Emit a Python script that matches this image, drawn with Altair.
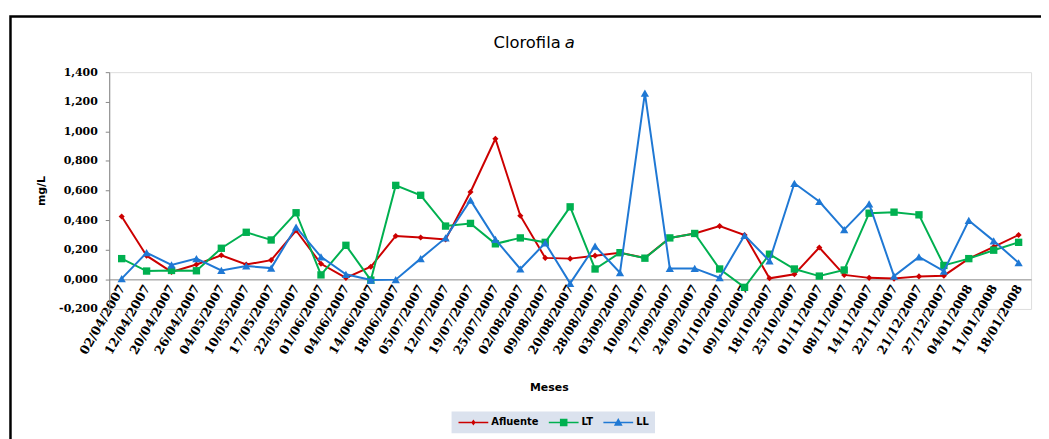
import altair as alt
import pandas as pd

fechas = ["02/04/2007", "12/04/2007", "20/04/2007", "26/04/2007", "04/05/2007", "10/05/2007",
          "17/05/2007", "22/05/2007", "01/06/2007", "04/06/2007", "14/06/2007", "18/06/2007",
          "05/07/2007", "12/07/2007", "19/07/2007", "25/07/2007", "02/08/2007", "09/08/2007",
          "20/08/2007", "28/08/2007", "03/09/2007", "10/09/2007", "17/09/2007", "24/09/2007",
          "01/10/2007", "09/10/2007", "18/10/2007", "25/10/2007", "01/11/2007", "08/11/2007",
          "14/11/2007", "22/11/2007", "21/12/2007", "27/12/2007", "04/01/2008", "11/01/2008",
          "18/01/2008"]

afluente = [0.425, 0.16, 0.05, 0.10, 0.163, 0.10, 0.13, 0.33, 0.105, 0.01, 0.085, 0.293,
            0.283, 0.27, 0.59, 0.95, 0.43, 0.145, 0.14, 0.16, 0.18, 0.145, 0.28, 0.31,
            0.36, 0.30, 0.007, 0.034, 0.215, 0.03, 0.01, 0.005, 0.02, 0.025, 0.14, 0.22, 0.30]

lt = [0.14, 0.056, 0.06, 0.058, 0.21, 0.318, 0.266, 0.45, 0.03, 0.23, -0.005, 0.635,
      0.568, 0.36, 0.378, 0.24, 0.28, 0.25, 0.49, 0.07, 0.18, 0.143, 0.28, 0.31,
      0.07, -0.054, 0.17, 0.07, 0.022, 0.063, 0.447, 0.454, 0.436, 0.094, 0.14, 0.197, 0.25]

ll = [0.005, 0.18, 0.098, 0.14, 0.06, 0.09, 0.076, 0.353, 0.152, 0.034, -0.005, -0.002,
      0.14, 0.28, 0.535, 0.27, 0.07, 0.246, -0.027, 0.225, 0.045, 1.259, 0.074, 0.074,
      0.011, 0.297, 0.125, 0.649, 0.526, 0.336, 0.51, 0.022, 0.152, 0.056, 0.398, 0.26, 0.112]

series_names = ["Afluente", "LT", "LL"]
series_colors = ["#cc0000", "#00b050", "#1f78d4"]
marker_shapes = ["diamond", "square", "triangle-up"]
marker_sizes = [38, 55, 70]
y_ticks = [-0.2, 0.0, 0.2, 0.4, 0.6, 0.8, 1.0, 1.2, 1.4]

# legend symbols: short line + marker (unit = 4px, symbol size 64)
legend_paths = [
    "M-3.75,-0.18H3.75V0.18H-3.75Z M0,-0.75L0.55,0L0,0.75L-0.55,0Z",
    "M-3.75,-0.18H3.75V0.18H-3.75Z M-0.95,-0.95H0.95V0.95H-0.95Z",
    "M-3.75,-0.18H3.75V0.18H-3.75Z M0,-1.1L1.1,0.85H-1.1Z",
]

rows = []
for name, vals in zip(series_names, [afluente, lt, ll]):
    for f, v in zip(fechas, vals):
        rows.append({"Fecha": f, "Serie": name, "Valor": v})
df = pd.DataFrame(rows)

W = 929
H = 238.6
GRAY = "#868686"

x_enc = alt.X(
    "Fecha:O", sort=fechas, scale=alt.Scale(padding=0.5),
    axis=alt.Axis(
        title="Meses", offset=-29.8, domainColor=GRAY, domainWidth=1, ticks=False,
        labelAngle=-60, labelFont="DejaVu Serif", labelFontWeight="bold", labelFontSize=12.5,
        labelColor="black", labelPadding=6, labelOverlap=False,
        titleFont="DejaVu Sans", titleFontWeight="bold", titleFontSize=11, titleColor="black",
        titleX=443, titleY=109, titleAnchor="start", titleAlign="center", titleBaseline="middle",
        grid=False,
    ),
)
y_enc = alt.Y(
    "Valor:Q", scale=alt.Scale(domain=[-0.2, 1.4], nice=False, zero=False),
    axis=alt.Axis(
        title="mg/L", values=y_ticks, grid=False, domainColor=GRAY, tickColor=GRAY,
        tickSize=4, labelPadding=8,
        labelExpr="(datum.value < -0.0001 ? '-' : '') + replace(format(abs(datum.value), '.3f'), '.', ',')",
        labelFont="DejaVu Serif", labelFontWeight="bold", labelFontSize=11, labelColor="black",
        titleFont="DejaVu Sans", titleFontWeight="bold", titleFontSize=11, titleColor="black",
        titleAngle=-90, titleX=-68, titleY=H / 2, titleAlign="center", titleBaseline="middle",
    ),
)

layers = []
for name, col, shp, sz in zip(series_names, series_colors, marker_shapes, marker_sizes):
    base = alt.Chart(df).transform_filter(alt.datum.Serie == name)
    line = base.mark_line(strokeWidth=2).encode(x=x_enc, y=y_enc, color=alt.value(col))
    pts = base.mark_point(shape=shp, filled=True, size=sz, opacity=1).encode(
        x=x_enc, y=y_enc, color=alt.value(col))
    layers += [line, pts]

leg_props = dict(
    orient="none", legendX=345, legendY=342, direction="horizontal", title=None,
    fillColor="#dbe2ee", padding=6, symbolSize=64, symbolStrokeWidth=0,
    symbolOffset=11, labelOffset=13,
    labelFont="DejaVu Sans", labelFontWeight="bold", labelFontSize=10, labelColor="black",
    columnPadding=9,
)
dummy = alt.Chart(df).transform_filter("false").mark_point(filled=True, opacity=1, size=64).encode(
    x=x_enc, y=y_enc,
    color=alt.Color("Serie:N", scale=alt.Scale(domain=series_names, range=series_colors),
                    legend=alt.Legend(**leg_props)),
    shape=alt.Shape("Serie:N", scale=alt.Scale(domain=series_names, range=legend_paths),
                    legend=alt.Legend(**leg_props)),
)

one = pd.DataFrame({"k": [0]})
border = alt.Chart(one).mark_rect(fillOpacity=0, stroke="black", strokeWidth=2.5).encode(
    x=alt.value(-99.5), x2=alt.value(1200), y=alt.value(-56.2), y2=alt.value(500))
title1 = alt.Chart(one).mark_text(align="right", baseline="middle", font="DejaVu Sans",
                                  fontSize=16.5, color="black").encode(
    x=alt.value(455), y=alt.value(-29), text=alt.value("Clorofila"))
title2 = alt.Chart(one).mark_text(align="left", baseline="middle", font="DejaVu Sans",
                                  fontSize=16.5, fontStyle="italic", color="black").encode(
    x=alt.value(459), y=alt.value(-29), text=alt.value("a"))

chart = alt.layer(border, *layers, dummy, title1, title2).properties(
    width=W, height=H,
    autosize=alt.AutoSizeParams(type="none"),
    padding={"left": 102, "top": 63, "right": 10, "bottom": 129.4},
).configure_view(stroke=None).configure(background="white")

chart.save("out.html", embed_options={"renderer": "svg", "actions": False})
